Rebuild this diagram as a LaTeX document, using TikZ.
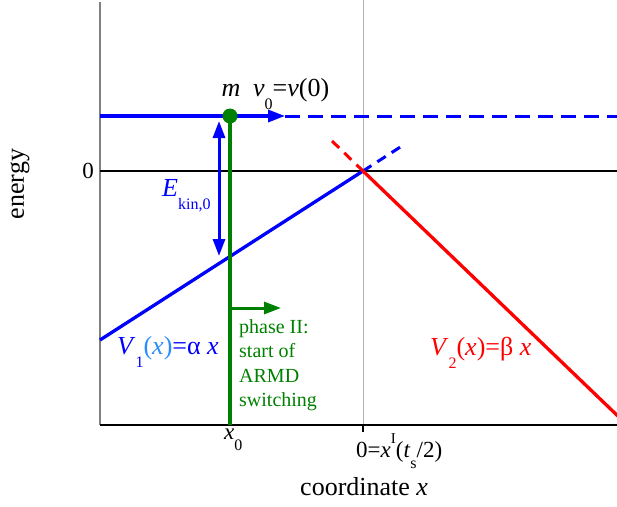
\documentclass[tikz,border=0pt]{standalone}
\usepackage{fontspec}
\setmainfont{Liberation Serif}
\usepackage{xcolor}
\usepackage{tikz}
\definecolor{axisgray}{RGB}{128,128,128}
\definecolor{gridgray}{RGB}{180,180,180}
\definecolor{potblue}{RGB}{0,0,255}
\definecolor{potred}{RGB}{255,0,0}
\definecolor{phasegreen}{RGB}{0,128,0}
\definecolor{lightblue}{RGB}{40,140,255}
\newcommand{\lowsub}[1]{\raisebox{-0.5em}{\fontsize{16}{16}\selectfont #1}}
\newcommand{\highsup}[1]{\raisebox{0.6em}{\fontsize{15}{15}\selectfont #1}}
\usetikzlibrary{calc,positioning,arrows.meta}

\begin{document}
\begin{tikzpicture}[x=1pt,y=-1pt,
    potline/.style={line width=3.3pt},
    dashblue/.style={potblue, line width=3pt, dash pattern=on 15pt off 8pt},
    dashshort/.style={line width=3pt, dash pattern=on 10pt off 7pt},
    tip/.style={-{Triangle[length=17pt,width=12pt]}},
    lbl/.style={font=\fontsize{26}{30}\selectfont, inner sep=0pt},
    ticklbl/.style={font=\fontsize{23}{26}\selectfont, inner sep=0pt},
    greentxt/.style={font=\fontsize{20}{24}\selectfont, inner sep=0pt, phasegreen},
  ]
\useasboundingbox (0,0) rectangle (617,506);
\def\ytop{116}
\def\xnull{230}
% frame and axes
\coordinate (axtop) at (100,2);
\coordinate (axorig) at (100,425);
\coordinate (axright) at (617,425);
\coordinate (O) at (363,171);
\coordinate (gridtop) at (363,0);
\coordinate (gridbot) at (363,425);
\coordinate (ticklow) at (363,432);
\coordinate (zeroleft) at (100,171);
\coordinate (zeroright) at (617,171);
\draw[axisgray, line width=1.2pt] (axtop) -- (axorig);
\draw[gridgray, line width=0.9pt] (gridtop) -- (gridbot);
\draw[black, line width=1.8pt] (axorig) -- (axright);
\draw[black, line width=1.8pt] (gridbot) -- (ticklow);
\draw[black, line width=2.8pt] (zeroleft) -- (zeroright);
% potentials
\coordinate (V1start) at (100,340);
\coordinate (V1end) at (405,144);
\coordinate (V2start) at (332,141);
\coordinate (V2end) at (622,420);
\draw[potblue, potline] (V1start) -- (O);
\draw[potblue, dashshort] (O) -- (V1end);
\draw[potred, dashshort] (V2start) -- (O);
\draw[potred, potline] (O) -- (V2end);
% total energy level
\coordinate (Eleft) at (100,\ytop);
\coordinate (mass) at (\xnull,\ytop);
\coordinate (velo) at (285,\ytop);
\coordinate (Eright) at (617,\ytop);
\draw[potblue, potline] (Eleft) -- (mass);
\draw[potblue, potline, tip] (mass) -- (velo);
\draw[dashblue] (velo) -- (Eright);
% kinetic energy
\coordinate (Ekintop) at (219,121);
\coordinate (Ekinbot) at (219,256);
\draw[potblue, line width=3pt, {Triangle[length=17pt,width=12pt]}-{Triangle[length=17pt,width=12pt]}] (Ekintop) -- (Ekinbot);
% particle and phase II
\coordinate (x0) at (\xnull,425);
\coordinate (phasearr) at (\xnull,308);
\coordinate (phasetip) at (281,308);
\draw[phasegreen, line width=3.5pt] (mass) -- (x0);
\draw[phasegreen, line width=3pt, tip] (phasearr) -- (phasetip);
\fill[phasegreen] (mass) circle (7.5pt);
% labels
\node[lbl, anchor=base] (mlbl) at (231,96) {\textit{m}};
\node[lbl, anchor=base west] (vlbl) at (253,96) {\textit{v}\lowsub{0}=\textit{v}(0)};
\node[lbl, anchor=base west, potblue] (Ekinlbl) at (162,196) {\textit{E}\lowsub{kin,0}};
\node[lbl, anchor=base west] (V1lbl) at (117,354) {{\color{potblue}\textit{V}\lowsub{1}}{\color{lightblue}(\textit{x})}{\color{potblue}=α \textit{x}}};
\node[lbl, anchor=base west, potred] (V2lbl) at (430,355) {\textit{V}\lowsub{2}(\textit{x})=β \textit{x}};
\foreach \txt [count=\i] in {phase II:, start of, ARMD, switching}
  \node[greentxt, anchor=base west] (phase\i) at (239,{308.5+24.5*\i}) {\txt};
\node[ticklbl, anchor=base east] (zerolbl) at (94,178) {0};
\node[ticklbl, anchor=base west] (x0lbl) at (224,439) {\textit{x}\lowsub{0}};
\node[ticklbl, anchor=base west] (xIlbl) at (356,457) {0=\textit{x}\highsup{I}(\textit{t}\lowsub{s}/2)};
\node[lbl, anchor=base west] (xlab) at (300,495) {coordinate \textit{x}};
\node[lbl, rotate=90] (ylab) at (20,184) {energy};
\end{tikzpicture}
\end{document}
